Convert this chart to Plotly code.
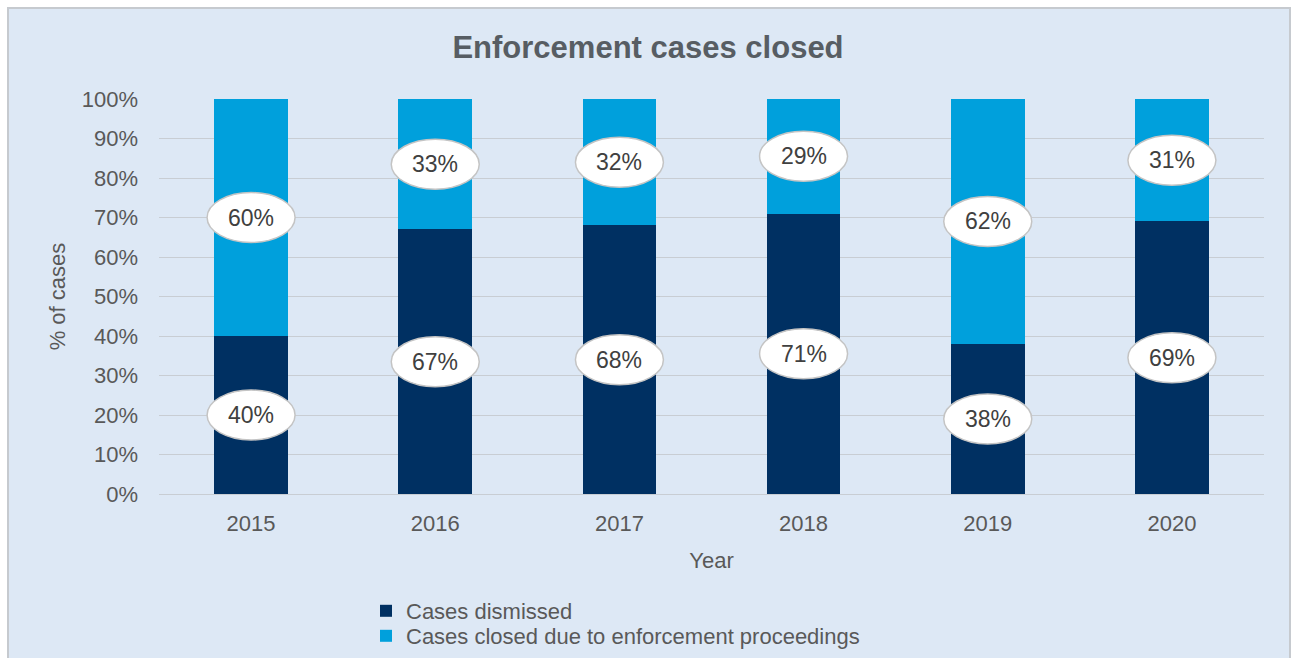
import plotly.graph_objects as go

years = ["2015", "2016", "2017", "2018", "2019", "2020"]
dismissed = [40, 67, 68, 71, 38, 69]
enforcement = [60, 33, 32, 29, 62, 31]
series_names = ["Cases dismissed", "Cases closed due to enforcement proceedings"]
y_ticks = [0, 10, 20, 30, 40, 50, 60, 70, 80, 90, 100]

DARK = "#003062"
LIGHT = "#00a0dc"
TXT = "#595959"
BG = "#dde8f5"
FONT = "Liberation Sans, Arial, sans-serif"

W, H = 1296, 658
ML, MR, MT, MB = 159, 32, 99, 164
PW, PH = W - ML - MR, H - MT - MB

xs = list(range(len(years)))


def px_to_paper_x(px):
    return (px - ML) / PW


def px_to_paper_y(py):
    return (H - MB - py) / PH


fig = go.Figure()
fig.add_trace(go.Bar(x=xs, y=dismissed, name=series_names[0], legend="legend", showlegend=True,
                     marker=dict(color=DARK, line=dict(width=0))))
fig.add_trace(go.Bar(x=xs, y=enforcement, name=series_names[1], legend="legend2", showlegend=True,
                     marker=dict(color=LIGHT, line=dict(width=0))))

shapes = []
annotations = []

shapes.append(dict(type="rect", xref="paper", yref="paper",
                   x0=px_to_paper_x(8), x1=px_to_paper_x(1290),
                   y0=px_to_paper_y(H + 5), y1=px_to_paper_y(8),
                   fillcolor=BG, line=dict(color="#c6cacf", width=2), layer="below"))

for i in xs:
    segs = [(dismissed[i], dismissed[i] / 2), (enforcement[i], dismissed[i] + enforcement[i] / 2)]
    for val, mid in segs:
        shapes.append(dict(type="circle", xref="x", yref="y", xsizemode="pixel", ysizemode="pixel",
                           xanchor=i, yanchor=mid, x0=-44, x1=44, y0=-25, y1=25,
                           fillcolor="white", line=dict(color="#c4c4c4", width=1.5), layer="above"))
        annotations.append(dict(x=i, y=mid, xref="x", yref="y", text=f"{val}%", showarrow=False,
                                font=dict(size=23, color="#404040", family=FONT)))

legend_common = dict(orientation="v", xanchor="left", yanchor="middle", bgcolor="rgba(0,0,0,0)",
                     font=dict(size=22, color=TXT), itemclick=False, itemdoubleclick=False, visible=True)

fig.update_layout(
    width=W, height=H,
    showlegend=True,
    margin=dict(l=ML, r=MR, t=MT, b=MB, autoexpand=False),
    paper_bgcolor="white",
    plot_bgcolor="rgba(0,0,0,0)",
    barmode="stack",
    bargap=0.6,
    font=dict(family=FONT, color=TXT, size=22),
    title=dict(text="<b>Enforcement cases closed</b>", x=0.5, xanchor="center", y=1 - 47 / H, yanchor="middle",
               font=dict(size=31, color="#575d63", family=FONT)),
    xaxis=dict(tickmode="array", tickvals=xs, ticktext=years, range=[-0.5, len(years) - 0.5],
               showgrid=False, zeroline=False, showline=False, ticks="", ticklabelstandoff=14,
               tickfont=dict(size=22, color=TXT),
               title=dict(text="Year", standoff=17, font=dict(size=22, color=TXT)), automargin=False),
    yaxis=dict(range=[0, 100], tickvals=y_ticks, ticktext=[f"{v}%" for v in y_ticks],
               showgrid=True, gridcolor="#c8cdd3", gridwidth=1.2, zeroline=True, zerolinecolor="#c8cdd3",
               zerolinewidth=1.2, showline=False, ticks="", ticklabelstandoff=20,
               tickfont=dict(size=22, color=TXT),
               title=dict(text="% of cases", standoff=10, font=dict(size=22, color=TXT)), automargin=False),
    legend=dict(x=px_to_paper_x(366), y=px_to_paper_y(611), **legend_common),
    legend2=dict(x=px_to_paper_x(366), y=px_to_paper_y(636), **legend_common),
    shapes=shapes,
    annotations=annotations,
)

fig.write_html("out.html", config={"displayModeBar": False})
